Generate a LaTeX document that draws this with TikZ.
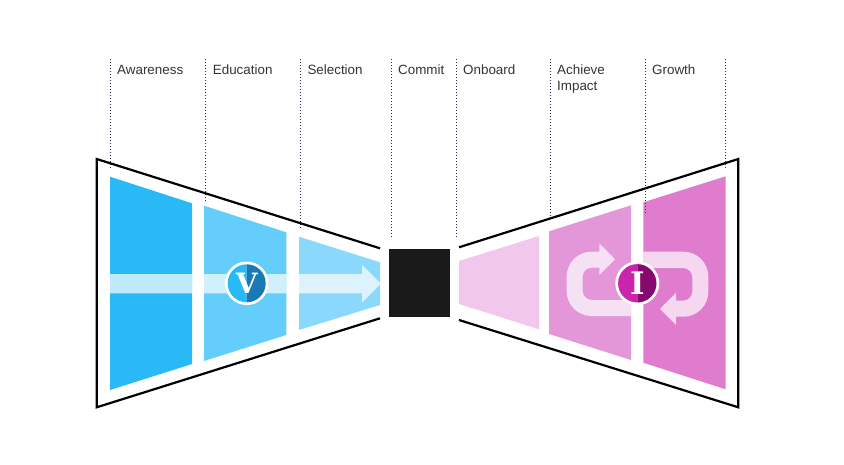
\documentclass[tikz,border=0pt]{standalone}
\usepackage{fontspec}
\setmainfont{Liberation Sans}
\newfontfamily\slabfont{DejaVu Serif}
\definecolor{blueA}{HTML}{29B9F6}
\definecolor{blueB}{HTML}{64CDFB}
\definecolor{blueC}{HTML}{8AD8FB}
\definecolor{blueD}{HTML}{1A78B4}
\definecolor{pinkA}{HTML}{F1C8EB}
\definecolor{pinkB}{HTML}{E397D8}
\definecolor{pinkC}{HTML}{DF7CCD}
\definecolor{pinkD}{HTML}{C924AB}
\definecolor{pinkE}{HTML}{87086F}
\definecolor{inkC}{HTML}{1A1A1A}
\definecolor{dotC}{HTML}{2A2A55}
\definecolor{labC}{HTML}{333333}
\tikzset{
  stagelabel/.style={anchor=base west,inner sep=0pt,align=left,text=labC,font=\fontsize{13.4}{16}\selectfont},
  guide/.style={dotC,line width=0.9pt,dash pattern=on 0.9pt off 2.1pt},
  outline/.style={draw=black,line width=2.2pt,line cap=butt,line join=miter},
  overlay band/.style={fill=white,fill opacity=0.7},
  badge letter/.style={text=white,inner sep=0pt,font=\slabfont\bfseries\fontsize{28}{28}\selectfont},
  badge letter big/.style={text=white,inner sep=0pt,font=\slabfont\bfseries\fontsize{31}{31}\selectfont}
}
\begin{document}
\begin{tikzpicture}[x=1pt,y=-1pt]
\useasboundingbox (0,0) rectangle (844,464);
% guides
\draw[guide] (110.5,59) -- (110.5,170);
\draw[guide] (205,59) -- (205,201);
\draw[guide] (300,59) -- (300,228);
\draw[guide] (391.3,59) -- (391.3,238);
\draw[guide] (456,59) -- (456,238);
\draw[guide] (550.7,59) -- (550.7,217);
\draw[guide] (725,59) -- (725,170);
% outlines
\draw[outline] (380,248.3) -- (96.7,159) -- (96.7,407.3) -- (380,318.3);
\draw[outline] (459,247.3) -- (738.3,159) -- (738.3,407.3) -- (459,320);
% blue stages
\fill[blueA] (110,176.7) -- (192,203.3) -- (192,364) -- (110,390) -- cycle;
\fill[blueB] (204,205.7) -- (286.3,232.3) -- (286.3,335) -- (204,361) -- cycle;
\fill[blueC] (299,236.7) -- (380,262.3) -- (380,305) -- (299,330) -- cycle;
% pink stages
\fill[pinkA] (459,261) -- (539,236) -- (539,329.3) -- (459,304) -- cycle;
\fill[pinkB] (549,231.3) -- (631,205.3) -- (631,360) -- (549,334) -- cycle;
\fill[pinkC] (643.3,202.3) -- (725.7,176.3) -- (725.7,389.3) -- (643.3,362.7) -- cycle;
\draw[guide] (645,59) -- (645,215);
% commit block
\fill[inkC] (389,249) rectangle (450,316.7);
% forward arrow
\fill[overlay band] (110,274) -- (192,274) -- (192,293.3) -- (110,293.3) -- cycle
  (204,274) -- (286.3,274) -- (286.3,293.3) -- (204,293.3) -- cycle
  (299,274) -- (362,274) -- (362,265) -- (381,283.7) -- (362,302.7) -- (362,293.3) -- (299,293.3) -- cycle;
% loop arrows
\fill[overlay band,rounded corners=0pt]
  (631,300) -- (592,300) arc[start angle=90,end angle=180,radius=9.3] -- (582.7,276.5)
  arc[start angle=180,end angle=270,radius=8.8] -- (599.3,267.7) -- (599.3,275) -- (615,259.3) -- (599.3,243.3)
  -- (599.3,251.7) -- (591.5,251.7) arc[start angle=270,end angle=180,radius=24.8] -- (566.7,291.2)
  arc[start angle=180,end angle=90,radius=24.8] -- (631,316) -- cycle;
\fill[overlay band]
  (643.3,251.7) -- (683.5,251.7) arc[start angle=-90,end angle=0,radius=24.8] -- (708.3,291.9)
  arc[start angle=0,end angle=90,radius=24.8] -- (676,316.7) -- (676,325) -- (660,309) -- (676,292.7) -- (676,300.7)
  -- (683,300.7) arc[start angle=90,end angle=0,radius=9.3] -- (692.3,277.3)
  arc[start angle=0,end angle=-90,radius=9.3] -- (643.3,268) -- cycle;
% V badge
\fill[white] (246.7,283.3) circle[radius=21.8];
\fill[blueA] (246.7,264.3) arc[start angle=-90,end angle=-270,radius=19] -- cycle;
\fill[blueD] (246.7,264.3) arc[start angle=-90,end angle=90,radius=19] -- cycle;
\node[badge letter] (v) at (246.7,283.3) {V};
% I badge
\fill[white] (637.3,283.3) circle[radius=22];
\fill[pinkD] (637.3,264.1) arc[start angle=-90,end angle=-270,radius=19.2] -- cycle;
\fill[pinkE] (637.3,264.1) arc[start angle=-90,end angle=90,radius=19.2] -- cycle;
\node[badge letter big] (i) at (637.3,283.3) {I};
% labels
\node[stagelabel] (awareness) at (117,74) {Awareness};
\node[stagelabel] (education) at (212.7,74) {Education};
\node[stagelabel] (selection) at (307.3,74) {Selection};
\node[stagelabel] (commit) at (398,74) {Commit};
\node[stagelabel] (onboard) at (463,74) {Onboard};
\node[stagelabel] (achieve) at (557,74) {Achieve};
\node[stagelabel] (impact) at (557,90) {Impact};
\node[stagelabel] (growth) at (652,74) {Growth};
\end{tikzpicture}
\end{document}
